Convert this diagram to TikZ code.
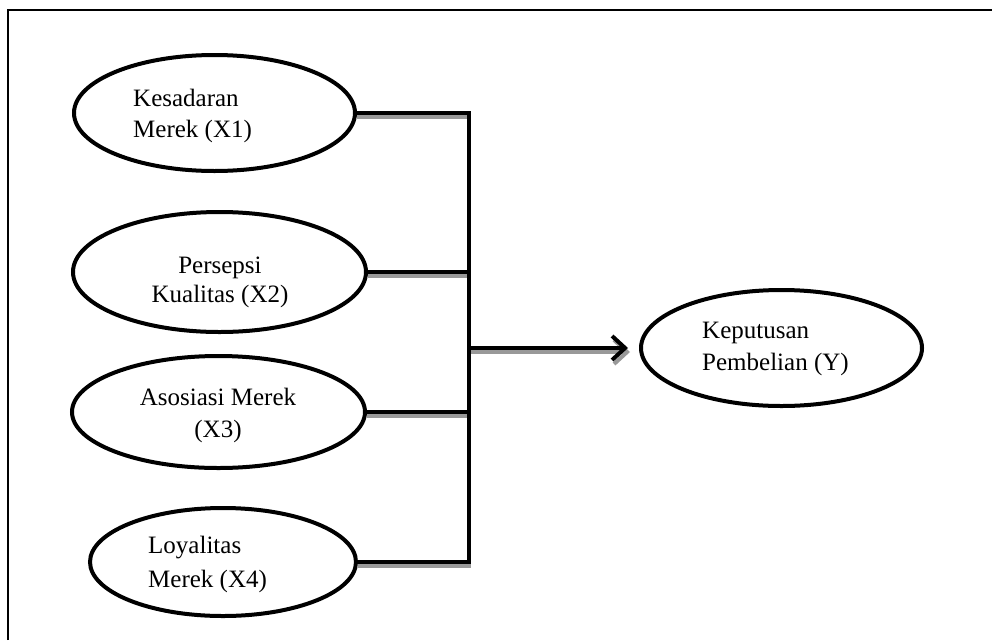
\documentclass[tikz,border=0pt]{standalone}
\usepackage{fontspec}
\setmainfont{Liberation Serif}
\usetikzlibrary{arrows.meta,shapes.geometric}
\begin{document}
\begin{tikzpicture}[x=1pt,y=1pt,
  ell/.style={draw, ellipse, line width=4pt, inner sep=0pt},
  lbl/.style={font=\fontsize{25}{31}\selectfont, inner sep=0pt},
  conn/.style={line width=4pt},
  shadowline/.style={line width=4pt, draw=black!40},
  tip/.style={-{Straight Barb[length=13pt,width=24pt,line width=4pt]}}]
\useasboundingbox (0,0) rectangle (992,-640);
\draw[line width=2pt] (8,-640) -- (8,-10) -- (992,-10);

% ellipses
\node[ell, minimum width=281pt, minimum height=116pt] (x1) at (214.5,-113) {};
\node[ell, minimum width=293pt, minimum height=120pt] (x2) at (219.5,-272) {};
\node[ell, minimum width=293pt, minimum height=112pt] (x3) at (218.5,-412) {};
\node[ell, minimum width=266pt, minimum height=108pt] (x4) at (223,-562) {};
\node[ell, minimum width=281pt, minimum height=116pt] (yy) at (781.5,-348) {};

% labels
\node[lbl, anchor=base west] (t1a) at (133,-106) {Kesadaran};
\node[lbl, anchor=base west] (t1b) at (133,-137) {Merek (X1)};
\node[lbl, anchor=base] (t2a) at (220,-273) {Persepsi};
\node[lbl, anchor=base] (t2b) at (220,-302) {Kualitas (X2)};
\node[lbl, anchor=base] (t3a) at (218,-405) {Asosiasi Merek};
\node[lbl, anchor=base] (t3b) at (218,-437) {(X3)};
\node[lbl, anchor=base west] (t4a) at (148,-553) {Loyalitas};
\node[lbl, anchor=base west] (t4b) at (148,-587) {Merek (X4)};
\node[lbl, anchor=base west] (tya) at (702,-338) {Keputusan};
\node[lbl, anchor=base west] (tyb) at (702,-370) {Pembelian (Y)};

\coordinate (bus) at (469,0);

% shadows
\foreach \n in {x1,x2,x3,x4}
  \draw[shadowline] ([yshift=-4pt]\n.east) -- ([xshift=2pt,yshift=-4pt]\n.east -| bus);
\draw[shadowline, tip] ([yshift=-4pt]bus |- yy.west) -- ([xshift=-9pt,yshift=-4pt]yy.west);

% connectors
\draw[conn] (x1.east) -- (x1.east -| bus) -- (x4.east -| bus) -- (x4.east);
\draw[conn] (x2.east) -- (x2.east -| bus);
\draw[conn] (x3.east) -- (x3.east -| bus);
\draw[conn, tip] (bus |- yy.west) -- ([xshift=-11pt]yy.west);
\end{tikzpicture}
\end{document}
